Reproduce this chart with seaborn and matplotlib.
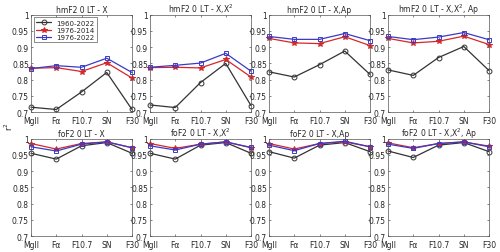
import numpy as np
import pandas as pd
import matplotlib.pyplot as plt
import seaborn as sns

proxies = ["MgII", "Fα", "F10.7", "SN", "F30"]
periods = ["1960-2022", "1976-2014", "1976-2022"]
titles = ["hmF2 0 LT - X", "hmF2 0 LT - X,X$^2$", "hmF2 0 LT - X,Ap", "hmF2 0 LT - X,X$^2$, Ap",
          "foF2 0 LT - X", "foF2 0 LT - X,X$^2$", "foF2 0 LT - X,Ap", "foF2 0 LT - X,X$^2$, Ap"]

# r^2 values, one list per period for each panel
r2_1960 = [
    [0.715, 0.708, 0.762, 0.822, 0.708],
    [0.722, 0.714, 0.791, 0.850, 0.720],
    [0.824, 0.808, 0.846, 0.888, 0.816],
    [0.830, 0.813, 0.868, 0.902, 0.828],
    [0.955, 0.937, 0.978, 0.988, 0.955],
    [0.955, 0.937, 0.980, 0.988, 0.955],
    [0.960, 0.940, 0.980, 0.988, 0.960],
    [0.962, 0.942, 0.980, 0.988, 0.960],
]
r2_1976_2014 = [
    [0.835, 0.837, 0.825, 0.852, 0.805],
    [0.837, 0.838, 0.836, 0.862, 0.808],
    [0.927, 0.913, 0.911, 0.932, 0.905],
    [0.927, 0.913, 0.918, 0.934, 0.908],
    [0.985, 0.968, 0.985, 0.990, 0.972],
    [0.985, 0.970, 0.983, 0.990, 0.972],
    [0.985, 0.968, 0.985, 0.990, 0.975],
    [0.987, 0.972, 0.985, 0.990, 0.977],
]
r2_1976_2022 = [
    [0.834, 0.843, 0.838, 0.866, 0.822],
    [0.838, 0.844, 0.851, 0.881, 0.826],
    [0.933, 0.924, 0.924, 0.942, 0.920],
    [0.933, 0.923, 0.931, 0.945, 0.923],
    [0.975, 0.962, 0.983, 0.990, 0.972],
    [0.978, 0.965, 0.983, 0.990, 0.973],
    [0.980, 0.963, 0.985, 0.992, 0.975],
    [0.983, 0.970, 0.985, 0.990, 0.975],
]

rows = []
for p, (a, b, c) in enumerate(zip(r2_1960, r2_1976_2014, r2_1976_2022)):
    for i, x in enumerate(proxies):
        rows.append((p, i, periods[0], a[i]))
        rows.append((p, i, periods[1], b[i]))
        rows.append((p, i, periods[2], c[i]))
df = pd.DataFrame(rows, columns=["panel", "xi", "period", "r2"])

sns.set_style("ticks")
plt.rcParams['font.family'] = ['DejaVu Sans']
plt.rcParams['font.size'] = 5.5

colors = {"1960-2022": "#333333", "1976-2014": "#d62728", "1976-2022": "#3a3ac8"}
markers = {"1960-2022": "o", "1976-2014": "*", "1976-2022": "s"}

fig = plt.figure(figsize=(5.0, 2.53), dpi=100)
lefts = [0.062, 0.300, 0.538, 0.776]
bottoms = [0.553, 0.063]
w, h = 0.202, 0.385

for p in range(8):
    ax = fig.add_axes([lefts[p % 4], bottoms[p // 4], w, h])
    sub = df[df.panel == p]
    for per in periods:
        s = sub[sub.period == per]
        mfc = colors[per] if per == "1976-2014" else "none"
        sns.lineplot(data=s, x="xi", y="r2", ax=ax, color=colors[per], lw=0.9,
                     marker=markers[per], markersize=3.5 if per != "1976-2014" else 4,
                     markerfacecolor=mfc, markeredgecolor=colors[per], markeredgewidth=0.7,
                     label=per if p == 0 else None, legend=False, clip_on=False)
    ax.set_xlim(0, 4)
    ax.set_ylim(0.7, 1.0)
    ax.set_xticks(range(5))
    ax.set_xticklabels(proxies)
    ax.set_yticks(np.arange(0.7, 1.001, 0.05))
    ax.set_yticklabels(["0.7", "0.75", "0.8", "0.85", "0.9", "0.95", "1"])
    ax.tick_params(labelsize=5.5, length=1.5, width=0.4, direction="in", top=True, right=True)
    ax.tick_params(axis="x", pad=3)
    ax.tick_params(axis="y", pad=1.5)
    ax.set_xlabel("")
    ax.set_ylabel("")
    ax.set_title(titles[p], fontsize=5.5, pad=2)
    for sp in ax.spines.values():
        sp.set_linewidth(0.5)
        sp.set_color("#555555")
    if p == 0:
        ax.legend(loc="upper left", fontsize=5, frameon=True, fancybox=False,
                  edgecolor="#333333", borderpad=0.3, handlelength=2.2,
                  labelspacing=0.2, borderaxespad=0.4).get_frame().set_linewidth(0.5)

fig.text(0.018, 0.5, "r$^2$", rotation=90, va="center", ha="center", fontsize=6)
fig.savefig("out.png", dpi=100)
